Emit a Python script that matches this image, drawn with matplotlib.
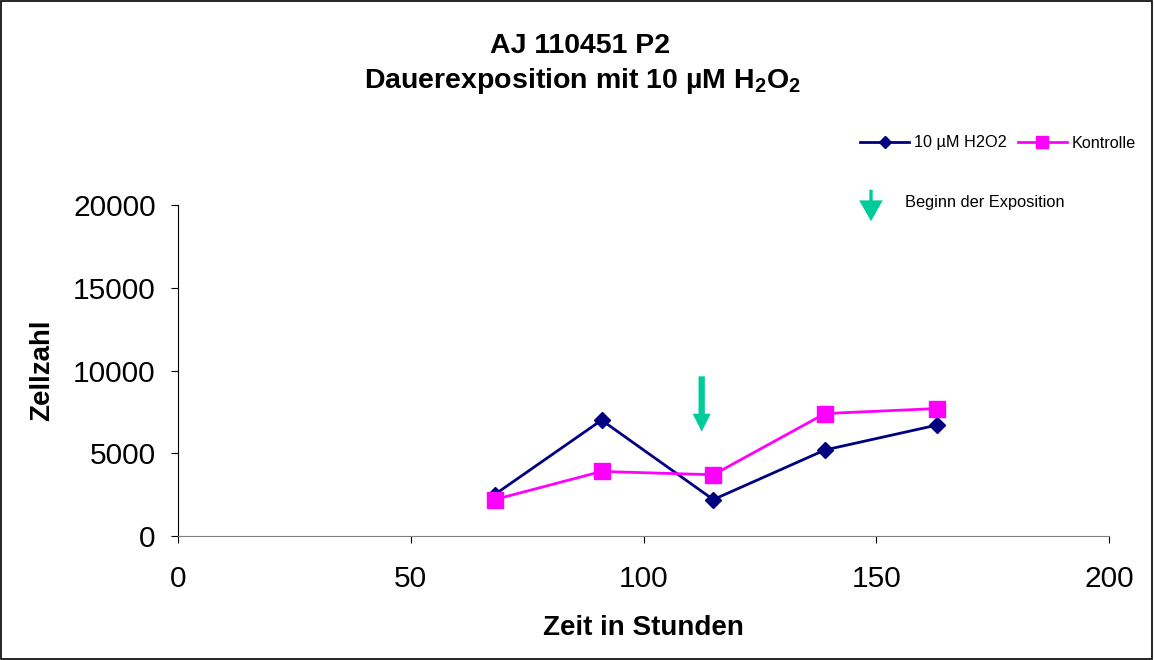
import matplotlib
matplotlib.use('Agg')
import matplotlib.pyplot as plt
from matplotlib.patches import Rectangle

plt.rcParams['font.family'] = ['Liberation Sans', 'DejaVu Sans']
plt.rcParams['mathtext.fontset'] = 'custom'
plt.rcParams['mathtext.rm'] = 'Liberation Sans'
plt.rcParams['mathtext.bf'] = 'Liberation Sans:bold'

# data
stunden = [68, 91, 115, 139, 163]
h2o2 = [2500, 7000, 2200, 5200, 6700]
kontrolle = [2200, 3900, 3700, 7400, 7700]
exposition_start = 112.5
x_ticks = [0, 50, 100, 150, 200]
y_ticks = [0, 5000, 10000, 15000, 20000]

fig = plt.figure(figsize=(11.54, 6.6), dpi=100, facecolor='white')
ax = fig.add_axes([178/1154, 1-536/660, (1109-178)/1154, (536-205)/660])

l1, = ax.plot(stunden, h2o2, color='#000080', lw=2, marker='D', markersize=8.5,
              label='10 µM H2O2', zorder=3)
l2, = ax.plot(stunden, kontrolle, color='#FF00FF', lw=2, marker='s', markersize=11,
              label='Kontrolle', zorder=4)

# arrow at start of exposure
ax.annotate('', xy=(exposition_start, 6300), xytext=(exposition_start, 9650),
            arrowprops=dict(facecolor='#00CC99', edgecolor='none', width=4.5,
                            headwidth=13, headlength=13, shrink=0))

ax.set_xlim(0, 200)
ax.set_ylim(0, 20000)
ax.set_xticks(x_ticks)
ax.set_yticks(y_ticks)
ax.tick_params(axis='both', labelsize=21.5, direction='out', length=5)
ax.tick_params(axis='y', pad=11)
ax.tick_params(axis='x', pad=16, color='black')

# spines
ax.spines['top'].set_visible(False)
ax.spines['right'].set_visible(False)
ax.spines['bottom'].set_color('#808080')
ax.spines['left'].set_color('black')

fig.text(42/1154, 1-370/660, 'Zellzahl', rotation=90, fontsize=20, fontweight='bold',
         ha='center', va='center')
fig.text(643/1154, 1-628/660, 'Zeit in Stunden', fontsize=20, fontweight='bold',
         ha='center', va='center')
fig.text(580/1154, 1-46/660, 'AJ 110451 P2', fontsize=20.5, fontweight='bold',
         ha='center', va='center')
fig.text(583/1154, 1-81/660, r'Dauerexposition mit 10 µM H$_\mathbf{2}$O$_\mathbf{2}$',
         fontsize=20.5, fontweight='bold', ha='center', va='center')

fig.legend(handles=[l1, l2], loc='center', bbox_to_anchor=(998/1154, 1-143/660),
           ncol=2, frameon=False, fontsize=11.7, handlelength=3.0, handletextpad=0.3,
           columnspacing=0.7, markerscale=0.75)

# legend entry for the arrow
fig.text(905/1154, 1-203/660, 'Beginn der Exposition', fontsize=11.8, ha='left', va='center')
fig.add_artist(matplotlib.patches.FancyArrowPatch(
    (871/1154, 1-187/660), (871/1154, 1-224/660), transform=fig.transFigure,
    arrowstyle='simple,head_width=0.85,head_length=0.75,tail_width=0.12',
    mutation_scale=20, color='#00CC99', lw=0))

# frame around the whole chart
fig.add_artist(Rectangle((0.001, 0.002), 0.997, 0.996, transform=fig.transFigure,
                         fill=False, edgecolor='black', lw=1.2))

fig.savefig('out.png', dpi=100)
